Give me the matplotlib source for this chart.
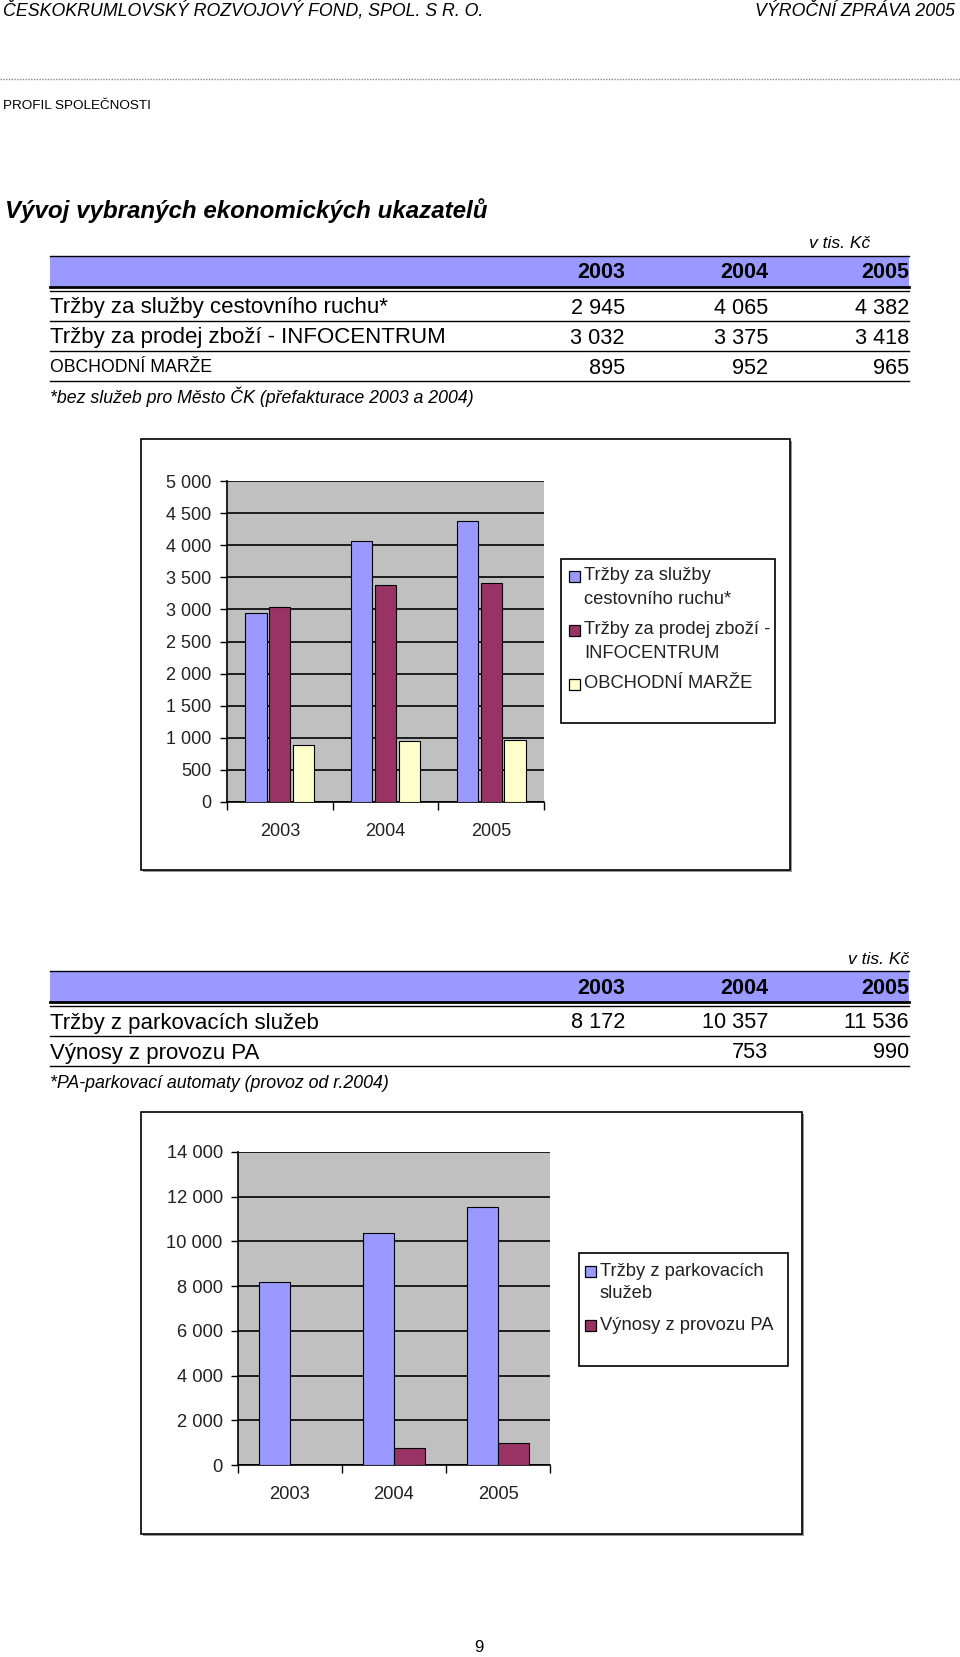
import matplotlib.pyplot as plt
import numpy as np
from matplotlib.patches import Rectangle
from matplotlib.ticker import FixedLocator, FuncFormatter

plt.rcParams["font.family"] = ["Liberation Sans", "DejaVu Sans"]

# data
years = ["2003", "2004", "2005"]
cr_labels = ["Tržby za služby cestovního ruchu*", "Tržby za prodej zboží - INFOCENTRUM", "OBCHODNÍ MARŽE"]
legend1 = ["Tržby za služby\ncestovního ruchu*", "Tržby za prodej zboží -\nINFOCENTRUM", "OBCHODNÍ MARŽE"]
cr_services = [2945, 4065, 4382]
infocentrum = [3032, 3375, 3418]
marze = [895, 952, 965]

park_labels = ["Tržby z parkovacích služeb", "Výnosy z provozu PA"]
legend2 = ["Tržby z parkovacích\nslužeb", "Výnosy z provozu PA"]
parking = [8172, 10357, 11536]
pa_income = [np.nan, 753, 990]

BLUE = "#9999ff"
MAROON = "#993366"
CREAM = "#ffffcc"
GRAY = "#c0c0c0"

W, H = 960, 1657
fig = plt.figure(figsize=(W / 100, H / 100), dpi=100)
page = fig.add_axes([0, 0, 1, 1])
page.set_xlim(0, W)
page.set_ylim(H, 0)
page.axis("off")


def rect(x0, y0, x1, y1):
    return [x0 / W, 1 - y1 / H, (x1 - x0) / W, (y1 - y0) / H]


def fmt(v):
    if v != v:
        return ""
    return f"{v:,.0f}".replace(",", " ")


# hlavicka stranky
page.text(3, 11, "ČESKOKRUMLOVSKÝ ROZVOJOVÝ FOND, SPOL. S R. O.", style="italic", fontsize=12.8, va="center")
page.text(955, 11, "VÝROČNÍ ZPRÁVA 2005", style="italic", fontsize=12.8, va="center", ha="right")
page.plot([0, W], [79, 79], color="#888888", lw=1, ls=(0, (1, 1)))
page.text(3, 106, "PROFIL SPOLEČNOSTI", fontsize=9.7, va="center")
page.text(5, 211, "Vývoj vybraných ekonomických ukazatelů", style="italic", weight="bold", fontsize=17.4, va="center")

col_x = [625, 768, 909]


def table(top, unit_x, unit_y, labels, values, sizes, note, note_y):
    page.text(unit_x, unit_y, "v tis. Kč", style="italic", fontsize=12.6, ha="right", va="center")
    page.add_patch(Rectangle((50, top), 859, 31, color=BLUE, lw=0))
    page.plot([50, 909], [top, top], color="black", lw=1)
    page.plot([50, 909], [top + 31, top + 31], color="black", lw=2)
    page.plot([50, 909], [top + 35, top + 35], color="black", lw=1)
    for x, yr in zip(col_x, years):
        page.text(x, top + 17, yr, weight="bold", fontsize=15.5, ha="right", va="center")
    y = top + 35
    for lab, vals, fs in zip(labels, values, sizes):
        page.text(50, y + 17, lab, fontsize=fs, va="center")
        for x, v in zip(col_x, vals):
            page.text(x, y + 17, fmt(v), fontsize=15.6, ha="right", va="center")
        y += 30
        page.plot([50, 909], [y, y], color="black", lw=1)
    page.text(50, note_y, note, style="italic", fontsize=12.8, va="center")


table(256, 870, 244, cr_labels, [cr_services, infocentrum, marze], [16, 16, 12.7],
      "*bez služeb pro Město ČK (přefakturace 2003 a 2004)", 397)
table(971, 909, 959, park_labels, [parking, pa_income], [16, 16],
      "*PA-parkovací automaty (provoz od r.2004)", 1084)


def chart(frame, plot, box, series, colors, labels, width, offsets, ymax, ystep, leg_xy, tsize):
    fx0, fy0, fx1, fy1 = frame
    page.add_patch(Rectangle((fx0 + 2, fy0 + 2), fx1 - fx0, fy1 - fy0, facecolor="#999999", lw=0))
    page.add_patch(Rectangle((fx0, fy0), fx1 - fx0, fy1 - fy0, facecolor="white", edgecolor="black", lw=1.2))
    bx0, by0, bx1, by1 = box
    page.add_patch(Rectangle((bx0, by0), bx1 - bx0, by1 - by0, facecolor="white", edgecolor="black", lw=1.2))

    # legenda - znacka u prvniho radku popisku
    lx, ly = leg_xy
    for lab, col in zip(labels, colors):
        page.add_patch(Rectangle((lx, ly - 5.5), 11, 11, facecolor=col, edgecolor="black", lw=0.9))
        for i, line in enumerate(lab.split("\n")):
            page.text(lx + 15, ly + i * 23, line, fontsize=13.2, color="#222222", va="center")
        ly += 54

    ax = fig.add_axes(rect(*plot))
    ax.set_facecolor(GRAY)
    x = np.arange(len(years))
    for vals, col, off in zip(series, colors, offsets):
        ax.bar(x + off, vals, width, color=col, edgecolor="black", lw=0.8, zorder=3)
    ax.set_xlim(-0.5, len(years) - 0.5)
    ax.set_ylim(0, ymax)
    ax.yaxis.set_major_locator(FixedLocator(np.arange(0, ymax + 1, ystep)))
    ax.yaxis.set_major_formatter(FuncFormatter(lambda v, p: fmt(v)))
    ax.yaxis.grid(True, color="black", lw=1.2, zorder=1)
    ax.set_axisbelow(True)
    ax.set_xticks(x)
    ax.set_xticklabels(years)
    ax.set_xticks(np.arange(-0.5, len(years)), minor=True)
    ax.tick_params(axis="x", which="major", length=0, pad=15, labelsize=tsize, colors="#222222")
    ax.tick_params(axis="x", which="minor", length=6, direction="out", width=1)
    ax.tick_params(axis="y", length=5, width=1, direction="out", pad=6, labelsize=tsize, labelcolor="#222222")
    for s in ["top", "right"]:
        ax.spines[s].set_visible(False)
    for s in ["left", "bottom"]:
        ax.spines[s].set_linewidth(1.2)
    return ax


chart((141, 439, 790, 870), (227, 481, 544, 802), (561, 559, 775, 723),
      [cr_services, infocentrum, marze], [BLUE, MAROON, CREAM], legend1,
      0.2, [-0.225, 0, 0.225], 5000, 500, (569, 576), 13)

chart((141, 1112, 802, 1534), (238, 1152, 550, 1465), (579, 1253, 788, 1366),
      [parking, pa_income], [BLUE, MAROON], legend2,
      0.3, [-0.15, 0.15], 14000, 2000, (585, 1271), 13.2)

page.text(479, 1647, "9", fontsize=12, ha="center", va="center")

fig.savefig("out.png", dpi=100)
